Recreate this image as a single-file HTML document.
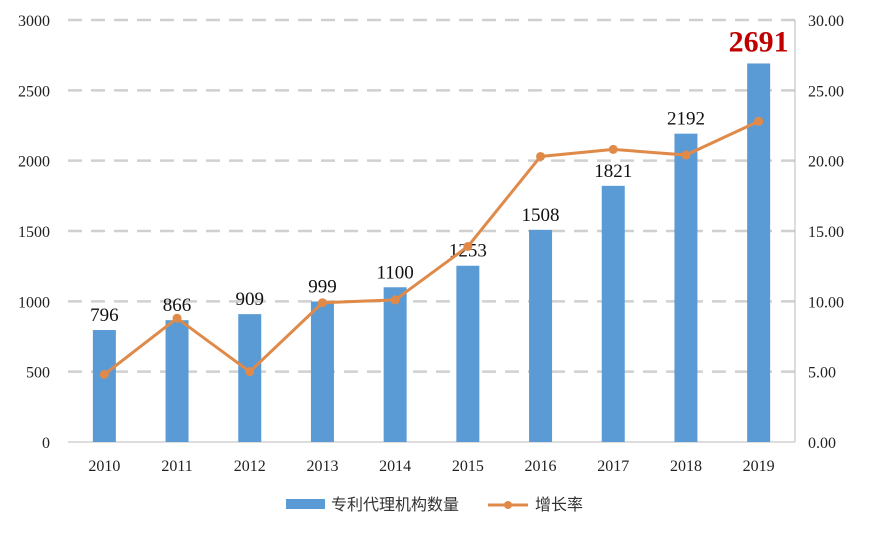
<!DOCTYPE html>
<html><head><meta charset="utf-8"><style>
body{margin:0;background:#fff;}
svg{display:block;font-family:"Liberation Serif","Noto Serif CJK SC",serif;}
</style></head><body>
<svg id="c" width="872" height="542"></svg>
<script>
const categories=["2010","2011","2012","2013","2014","2015","2016","2017","2018","2019"];
const counts=[796,866,909,999,1100,1253,1508,1821,2192,2691];
const growth=[4.8,8.8,5.0,9.9,10.1,13.9,20.3,20.8,20.4,22.8];
const leftTicks=[0,500,1000,1500,2000,2500,3000];
const rightTicks=["0.00","5.00","10.00","15.00","20.00","25.00","30.00"];
const NS="http://www.w3.org/2000/svg";
const svg=document.getElementById('c');
function mk(t,a,p){const e=document.createElementNS(NS,t);for(const k in a)e.setAttribute(k,a[k]);(p||svg).appendChild(e);return e;}
const x0=68,x1=795,y0=442,y1=20;
const yL=v=>y0-(v/3000)*(y0-y1);
const yR=v=>y0-(v/30)*(y0-y1);
const step=(x1-x0)/categories.length;
const xc=i=>x0+step*(i+0.5);
leftTicks.forEach((t,i)=>{
  const y=yL(t);
  if(i>0){const g=mk('line',{x1:x0,x2:x1,y1:y,y2:y,stroke:'#d0d0d0','stroke-width':2.5,'stroke-dasharray':'14,9'});
  
  }
  const l=mk('text',{x:50,y:y+6,'text-anchor':'end','font-size':16,fill:'#222'});l.textContent=t;
  
  
  const r=mk('text',{x:808,y:y+6,'font-size':16,fill:'#222'});r.textContent=rightTicks[i];
  
  
});
const ax=mk('line',{x1:x0,x2:x1,y1:y0,y2:y0,stroke:'#bbb','stroke-width':1});


const rax=mk('line',{x1:x1,x2:x1,y1:y1,y2:y0,stroke:'#bbb','stroke-width':1});


categories.forEach((c,i)=>{
  const b=mk('rect',{x:xc(i)-11.5,y:yL(counts[i]),width:23,height:y0-yL(counts[i]),fill:'#5b9bd5'});
  
  
  const last=i===categories.length-1;
  const v=mk('text',{x:xc(i),y:yL(counts[i])-(last?12:9),'text-anchor':'middle','font-size':last?30:19,'font-weight':last?'bold':'normal',fill:last?'#c00000':'#111'});
  v.textContent=counts[i];
  
  
  const xl=mk('text',{x:xc(i),y:471,'text-anchor':'middle','font-size':16,fill:'#222'});xl.textContent=c;
  
  
});
const pts=growth.map((g,i)=>xc(i)+','+yR(g)).join(' ');
const pl=mk('polyline',{points:pts,fill:'none',stroke:'#e08a4a','stroke-width':3});


growth.forEach((g,i)=>{
  const p=mk('circle',{cx:xc(i),cy:yR(g),r:4.5,fill:'#e08a4a'});
  
  
});
const lg=mk('g',{});


const s1=mk('rect',{x:286,y:499,width:39,height:10,fill:'#5b9bd5'},lg);


const t1=mk('text',{x:331,y:510,'font-size':16,fill:'#333','font-family':'"Liberation Sans","Noto Sans CJK SC",sans-serif'},lg);t1.textContent='专利代理机构数量';


const s2=mk('line',{x1:488,x2:528,y1:505,y2:505,stroke:'#e08a4a','stroke-width':3},lg);


mk('circle',{cx:508,cy:505,r:4,fill:'#e08a4a'},lg);
const t2=mk('text',{x:535,y:510,'font-size':16,fill:'#333','font-family':'"Liberation Sans","Noto Sans CJK SC",sans-serif'},lg);t2.textContent='增长率';


</script>
</body></html>
